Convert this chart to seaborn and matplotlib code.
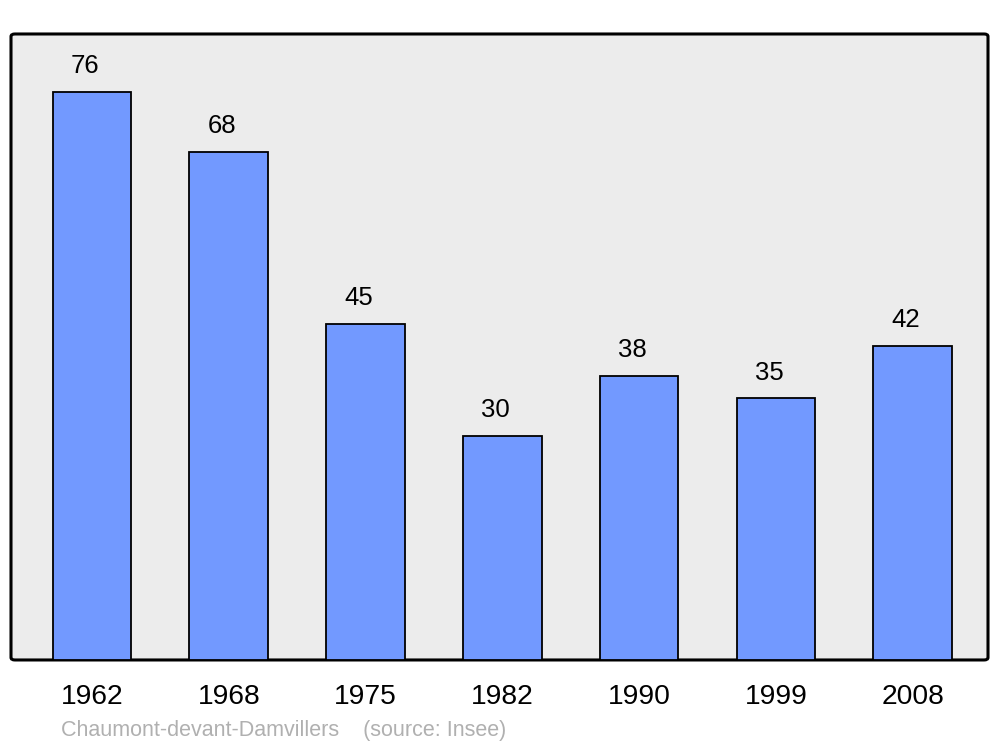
import matplotlib
matplotlib.use('Agg')
import matplotlib.pyplot as plt
import seaborn as sns
from matplotlib.patches import FancyBboxPatch

years = ['1962', '1968', '1975', '1982', '1990', '1999', '2008']
population = [76, 68, 45, 30, 38, 35, 42]
commune = 'Chaumont-devant-Damvillers'
source = '(source: Insee)'

sns.set_style('white')
plt.rcParams['font.family'] = ['Liberation Sans', 'DejaVu Sans']

fig = plt.figure(figsize=(10, 7.47), dpi=100)
ax = fig.add_axes([0.011, 0.1165, 0.977, 0.838])
ax.set_facecolor('none')

frame = FancyBboxPatch((0, 0), 1, 1, boxstyle='round,pad=0,rounding_size=0.004',
                       transform=ax.transAxes, facecolor='#ececec',
                       edgecolor='black', linewidth=2.2, zorder=0, clip_on=False)
ax.add_patch(frame)

sns.barplot(x=years, y=population, color='#7299ff', saturation=1, width=0.575,
            edgecolor='black', linewidth=1.3, ax=ax, zorder=2)

for i, v in enumerate(population):
    ax.text(i - 0.05, v + 1.85, str(v), ha='center', va='bottom', fontsize=18.5, color='black')

for s in ax.spines.values():
    s.set_visible(False)
ax.set_xlim(-0.592, 6.55)
ax.set_ylim(0, 83.76)
ax.set_yticks([])
ax.tick_params(axis='x', length=0, pad=17, labelsize=20.3, labelcolor='black')
for lbl in ax.get_xticklabels():
    lbl.set_x(lbl.get_position()[0] - 0.015)
ax.set_xlabel('')
ax.set_ylabel('')

fig.text(0.061, 0.0225, commune + '    ' + source, fontsize=15.5, color='#b0b0b0',
         ha='left', va='center')

fig.savefig('out.png', dpi=100)
